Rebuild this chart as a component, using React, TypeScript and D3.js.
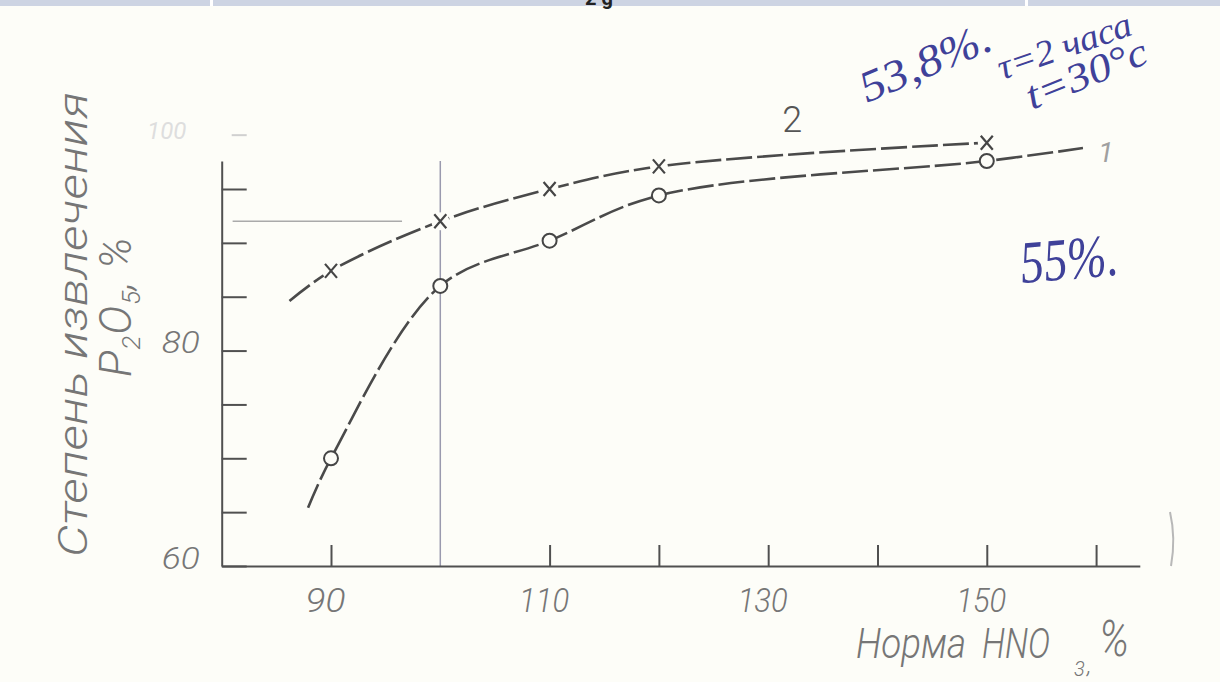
import { useRef, useEffect } from "react";
import * as d3 from "d3";

// Норма HNO3, % (x) and степень извлечения P2O5, % (y)
const normaHNO3 = [90, 100, 110, 120, 150];
const curve1 = [70.0, 86.0, 90.2, 94.4, 97.6]; // curve 1, circles
const curve2 = [87.4, 92.0, 95.0, 97.1, 99.3]; // curve 2, crosses

// where the hand drawn lines begin / end beyond the measured points
const curve1Start = [87.9, 65.4];
const curve1End = [158.8, 98.8];
const curve2Start = [86.2, 84.6];

const xTicks = [90, 110, 120, 130, 140, 150, 160];
const xTickLabels = [90, 110, 130, 150];
const yTicks = [60, 65, 70, 75, 80, 85, 90, 95];
const yTickLabels = [60, 80];

const paper = "#fdfdf8";
const ink = "#505050";
const labelInk = "#767676";
const pen = "#3f4199";
const font = "Roboto, 'DejaVu Sans', sans-serif";

export default function App() {
  const svgRef = useRef(null);

  useEffect(() => {
    const width = 1220;
    const height = 682;

    const svg = d3.select(svgRef.current)
      .attr("width", width)
      .attr("height", height);
    svg.selectAll("*").remove();

    // paper + the strip of the document header at the very top
    svg.append("rect").attr("width", width).attr("height", height).attr("fill", paper);
    svg.append("rect").attr("width", width).attr("height", 6).attr("fill", "#cdd4e3");
    [210, 1025].forEach(sx => {
      svg.append("rect").attr("x", sx).attr("width", 3).attr("height", 6).attr("fill", "#ffffff");
    });
    svg.append("text").attr("x", 585).attr("y", 5).attr("font-size", 20)
      .attr("font-family", font).attr("font-weight", 700).attr("fill", "#222").text("2 g");

    const x = d3.scaleLinear().domain([80, 164]).range([221.7, 1139.8]);
    const y = d3.scaleLinear().domain([60, 97.6]).range([566, 161]);

    // guide lines (reading off the value at 100 %)
    svg.append("line")
      .attr("x1", x(100)).attr("x2", x(100))
      .attr("y1", y(97.6)).attr("y2", y(60))
      .attr("stroke", "#9a9aae").attr("stroke-width", 1.5);
    svg.append("line")
      .attr("x1", x(81)).attr("x2", x(96.5))
      .attr("y1", y(curve2[1])).attr("y2", y(curve2[1]))
      .attr("stroke", "#aaaaaa").attr("stroke-width", 1.5);

    // x axis, ticks pointing up
    const xAxis = d3.axisBottom(x)
      .tickValues(xTicks)
      .tickSizeInner(-21)
      .tickSizeOuter(0)
      .tickPadding(22)
      .tickFormat(d => (xTickLabels.includes(d) ? String(d) : ""));
    const gx = svg.append("g")
      .attr("transform", `translate(0,${y(60)})`)
      .call(xAxis)
      .attr("font-size", 34)
      .attr("font-family", font);
    gx.select(".domain").attr("stroke", ink).attr("stroke-width", 2);
    gx.selectAll(".tick line").attr("stroke", ink).attr("stroke-width", 2);
    gx.selectAll(".tick text")
      .attr("fill", labelInk)
      .attr("font-style", "italic")
      .attr("font-weight", 300)
      .attr("x", -6)
      .filter(d => xTickLabels.includes(d))
      .attr("textLength", d => (String(d).length === 2 ? 40 : 50))
      .attr("lengthAdjust", "spacingAndGlyphs");

    // y axis, ticks pointing right
    const yAxis = d3.axisLeft(y)
      .tickValues(yTicks)
      .tickSizeInner(-25)
      .tickSizeOuter(0)
      .tickPadding(22)
      .tickFormat(d => (yTickLabels.includes(d) ? String(d) : ""));
    const gy = svg.append("g")
      .attr("transform", `translate(${x(80)},0)`)
      .call(yAxis)
      .attr("font-size", 32)
      .attr("font-family", font);
    gy.select(".domain").attr("stroke", ink).attr("stroke-width", 2);
    gy.selectAll(".tick line").attr("stroke", ink).attr("stroke-width", 2);
    gy.selectAll(".tick text")
      .attr("fill", labelInk)
      .attr("font-style", "italic")
      .attr("font-weight", 300)
      .attr("y", -8)
      .filter(d => yTickLabels.includes(d))
      .attr("textLength", 38)
      .attr("lengthAdjust", "spacingAndGlyphs");

    // faded top tick and label (100)
    svg.append("line")
      .attr("x1", x(80) + 10).attr("x2", x(80) + 25)
      .attr("y1", y(100)).attr("y2", y(100))
      .attr("stroke", "#d0d0d0").attr("stroke-width", 2);
    svg.append("text")
      .attr("x", x(80) - 55).attr("y", y(100) + 4)
      .attr("text-anchor", "middle")
      .attr("font-size", 24).attr("font-family", font).attr("font-style", "italic")
      .attr("fill", "#dedede").text("100");

    // curves
    const line = d3.line()
      .x(d => x(d[0]))
      .y(d => y(d[1]))
      .curve(d3.curveCatmullRom.alpha(0.5));

    const pts1 = [curve1Start, ...normaHNO3.map((n, i) => [n, curve1[i]]), curve1End];
    const pts2 = [curve2Start, ...normaHNO3.map((n, i) => [n, curve2[i]])];

    [pts1, pts2].forEach(pts => {
      svg.append("path")
        .attr("d", line(pts))
        .attr("fill", "none")
        .attr("stroke", "#4a4a4a")
        .attr("stroke-width", 2.6)
        .attr("stroke-dasharray", "26,5");
    });

    // circles for curve 1
    svg.selectAll(".m1")
      .data(normaHNO3)
      .join("circle")
      .attr("cx", d => x(d))
      .attr("cy", (d, i) => y(curve1[i]))
      .attr("r", 7)
      .attr("fill", paper)
      .attr("stroke", "#454545")
      .attr("stroke-width", 2);

    // crosses for curve 2
    const cross = svg.selectAll(".m2")
      .data(normaHNO3)
      .join("g")
      .attr("transform", (d, i) => `translate(${x(d)},${y(curve2[i])})`);
    cross.append("circle").attr("r", 9).attr("fill", paper);
    cross.append("path")
      .attr("d", "M-6,-7L6,7M6,-7L-6,7")
      .attr("stroke", "#454545")
      .attr("stroke-width", 2.2)
      .attr("fill", "none");

    // curve numbers
    svg.append("text")
      .attr("x", x(132.2)).attr("y", y(99.3))
      .attr("dy", "-0.3em")
      .attr("text-anchor", "middle")
      .attr("font-size", 36).attr("font-family", font).attr("font-weight", 300)
      .attr("fill", "#555").text("2");
    svg.append("text")
      .attr("x", x(160.9)).attr("y", y(98.8) + 14)
      .attr("text-anchor", "middle")
      .attr("font-size", 28).attr("font-family", font).attr("font-style", "italic")
      .attr("fill", "#a0a0a0").text("1");

    // axis titles
    svg.append("text")
      .attr("transform", "translate(87,557) rotate(-90)")
      .attr("font-size", 40).attr("font-family", font)
      .attr("font-style", "italic").attr("font-weight", 300)
      .attr("fill", labelInk)
      .attr("textLength", 465).attr("lengthAdjust", "spacingAndGlyphs")
      .text("Степень извлечения");

    const yt2 = svg.append("text")
      .attr("transform", "translate(131,377) rotate(-90)")
      .attr("font-size", 44).attr("font-family", font)
      .attr("font-style", "italic").attr("font-weight", 300)
      .attr("letter-spacing", 1)
      .attr("fill", labelInk);
    yt2.append("tspan").text("Р");
    yt2.append("tspan").attr("dy", 9).attr("font-size", 26).text("2");
    yt2.append("tspan").attr("dy", -9).text("О");
    yt2.append("tspan").attr("dy", 9).attr("font-size", 26).text("5");
    yt2.append("tspan").attr("dy", -9).text(", %");

    const xt = svg.append("g")
      .attr("font-family", font).attr("font-style", "italic").attr("font-weight", 300)
      .attr("fill", labelInk);
    xt.append("text").attr("x", 856).attr("y", 658).attr("font-size", 42)
      .attr("textLength", 110).attr("lengthAdjust", "spacingAndGlyphs").text("Норма");
    xt.append("text").attr("x", 982).attr("y", 658).attr("font-size", 42)
      .attr("textLength", 68).attr("lengthAdjust", "spacingAndGlyphs").text("HNO");
    xt.append("text").attr("x", 1074).attr("y", 676).attr("font-size", 20).text("3");
    xt.append("text").attr("x", 1087).attr("y", 673).attr("font-size", 24).text(",");
    xt.append("text").attr("x", 1099).attr("y", 656).attr("font-size", 50)
      .attr("textLength", 30).attr("lengthAdjust", "spacingAndGlyphs").text("%");

    // blue pen notes
    const notes = svg.append("g")
      .attr("font-family", "'Liberation Serif', 'DejaVu Serif', serif")
      .attr("font-style", "italic")
      .attr("fill", pen);
    notes.append("text").attr("transform", "translate(867,103) rotate(-23)")
      .attr("font-size", 44).attr("textLength", 139).attr("lengthAdjust", "spacingAndGlyphs")
      .text("53,8%.");
    notes.append("text").attr("transform", "translate(1002,80) rotate(-19)")
      .attr("font-size", 36).attr("textLength", 140).attr("lengthAdjust", "spacingAndGlyphs")
      .text("τ=2 часа");
    notes.append("text").attr("transform", "translate(1032,110) rotate(-22)")
      .attr("font-size", 40).attr("textLength", 128).attr("lengthAdjust", "spacingAndGlyphs")
      .text("t=30°c");
    notes.append("text").attr("transform", "translate(1022,283) rotate(-5)")
      .attr("font-size", 60).attr("textLength", 98).attr("lengthAdjust", "spacingAndGlyphs")
      .text("55%.");

    // scan specks at the right edge
    svg.append("path")
      .attr("d", "M1170,512 Q1176,538 1171,566")
      .attr("fill", "none").attr("stroke", "#b8b8b8").attr("stroke-width", 2);
  }, []);

  return (
    <svg ref={svgRef} style={{ position: "fixed", left: 0, top: 0, display: "block" }}></svg>
  );
}
